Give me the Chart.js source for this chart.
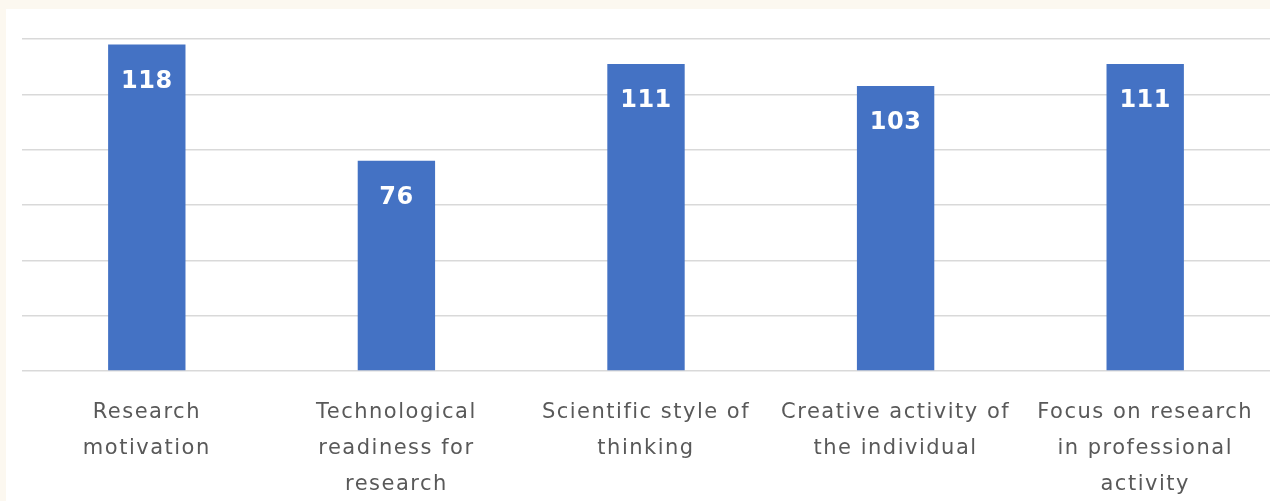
<!DOCTYPE html>
<html>
<head>
<meta charset="utf-8">
<script src="https://cdn.jsdelivr.net/npm/chart.js@4"></script>
<style>
  html, body { margin: 0; padding: 0; background: #fcf8f0; overflow: hidden; height: 100%; }
  #wrap { position: absolute; left: 6px; top: 9px; width: 1264px; height: 511px; background: #ffffff; }
</style>
</head>
<body>
<div id="wrap"><canvas id="chart"></canvas></div>
<script>
const categories = [
  ["Research", "motivation"],
  ["Technological", "readiness for", "research"],
  ["Scientific style of", "thinking"],
  ["Creative activity of", "the individual"],
  ["Focus on research", "in professional", "activity"],
];
const values = [118, 76, 111, 103, 111];
const yMax = 120;
const yStep = 20;

// the axis labels in the picture are set a little wide
const wideText = {
  id: "wideText",
  beforeDraw(chart) {
    chart.ctx.letterSpacing = "1.5px";
  },
  beforeDatasetsDraw(chart) {
    chart.ctx.letterSpacing = "0px";
  },
};

// white value labels inside the top of each bar
const valueLabels = {
  id: "valueLabels",
  afterDatasetsDraw(chart) {
    const ctx = chart.ctx;
    const meta = chart.getDatasetMeta(0);
    ctx.save();
    ctx.letterSpacing = "0.5px";
    ctx.fillStyle = "#ffffff";
    ctx.font = "bold 24px 'DejaVu Sans'";
    ctx.textAlign = "center";
    ctx.textBaseline = "middle";
    meta.data.forEach((bar, i) => {
      ctx.fillText(String(values[i]), bar.x, bar.y + 37);
    });
    ctx.restore();
  },
};

document.addEventListener("DOMContentLoaded", () => {
  const ctx = document.getElementById("chart").getContext("2d");
  new Chart(ctx, {
    type: "bar",
    data: {
      labels: categories,
      datasets: [
        {
          data: values,
          backgroundColor: "#4472c4",
          borderWidth: 0,
          categoryPercentage: 1,
          barPercentage: 0.31,
        },
      ],
    },
    options: {
      responsive: true,
      maintainAspectRatio: false,
      animation: false,
      layout: { padding: { left: 16, top: 30, right: 0, bottom: 1 } },
      plugins: { legend: { display: false }, tooltip: { enabled: false } },
      scales: {
        x: {
          grid: { display: false },
          border: { display: false },
          ticks: {
            color: "#595959",
            font: { family: "DejaVu Sans", size: 21, lineHeight: 36 / 21 },
            padding: 16,
            maxRotation: 0,
            autoSkip: false,
          },
        },
        y: {
          min: 0,
          max: yMax,
          grid: { color: "#d9d9d9", lineWidth: 1.5, drawTicks: false },
          border: { display: false },
          ticks: { display: false, stepSize: yStep },
        },
      },
    },
    plugins: [wideText, valueLabels],
  });
});
</script>
</body>
</html>
